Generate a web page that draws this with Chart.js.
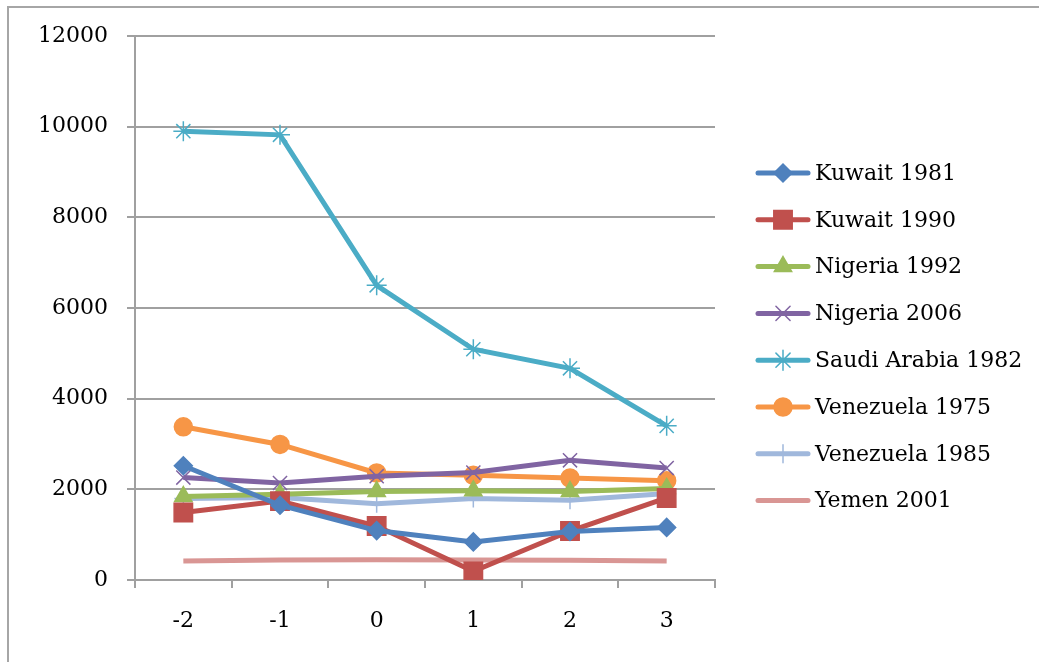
<!DOCTYPE html>
<html>
<head>
<meta charset="utf-8">
<script src="https://cdn.jsdelivr.net/npm/chart.js@4/dist/chart.umd.min.js"></script>
<style>
  html, body { margin: 0; padding: 0; background: #fff; }
  #frame { position: absolute; left: 0; top: 0; width: 1039px; height: 662px; }
  #border { position: absolute; left: 7px; top: 6px; right: 0; bottom: 0; border-left: 2px solid #a6a6a6; border-top: 2px solid #a6a6a6; }
  canvas { position: absolute; left: 0; top: 0; }
</style>
</head>
<body>
<div id="frame">
  <div id="border"></div>
  <canvas id="chart" width="1039" height="662"></canvas>
</div>
<script>
// Datos
const years = ['-2', '-1', '0', '1', '2', '3'];
const kuwait1981 = [2520, 1650, 1090, 840, 1070, 1160];
const kuwait1990 = [1490, 1740, 1190, 190, 1080, 1810];
const nigeria1992 = [1840, 1890, 1950, 1970, 1950, 2020];
const nigeria2006 = [2260, 2140, 2290, 2370, 2640, 2470];
const saudiArabia1982 = [9900, 9820, 6500, 5090, 4670, 3400];
const venezuela1975 = [3380, 2990, 2360, 2310, 2250, 2190];
const venezuela1985 = [1800, 1820, 1680, 1800, 1760, 1910];
const yemen2001 = [420, 440, 445, 440, 435, 420];
const yTicks = [0, 2000, 4000, 6000, 8000, 10000, 12000];

const FONT = '"DejaVu Serif", "Liberation Serif", serif';

const series = [
  { label: 'Kuwait 1981', data: kuwait1981, color: '#4f81bd', style: 'rectRot', radius: 9 },
  { label: 'Kuwait 1990', data: kuwait1990, color: '#c0504d', style: 'rect', radius: 13 },
  { label: 'Nigeria 1992', data: nigeria1992, color: '#9bbb59', style: 'triangle', radius: 10 },
  { label: 'Nigeria 2006', data: nigeria2006, color: '#8064a2', style: 'crossRot', radius: 10 },
  { label: 'Saudi Arabia 1982', data: saudiArabia1982, color: '#4bacc6', style: 'star', radius: 10 },
  { label: 'Venezuela 1975', data: venezuela1975, color: '#f79646', style: 'circle', radius: 9 },
  { label: 'Venezuela 1985', data: venezuela1985, color: '#a0b8dc', style: 'cross', radius: 9 },
  { label: 'Yemen 2001', data: yemen2001, color: '#d99694', style: false, radius: 0 }
];

// Leyenda estilo Excel: linea con marcador al centro
const excelLegend = {
  id: 'excelLegend',
  afterDraw(chart) {
    const ctx = chart.ctx;
    ctx.save();
    series.forEach((s, i) => {
      const y = 173 + i * 46.8;
      ctx.strokeStyle = s.color;
      ctx.lineWidth = 5;
      ctx.lineCap = 'round';
      ctx.beginPath();
      ctx.moveTo(758, y);
      ctx.lineTo(808, y);
      ctx.stroke();
      if (s.style) {
        ctx.fillStyle = s.color;
        ctx.strokeStyle = s.color;
        ctx.lineWidth = 1.5;
        Chart.helpers.drawPoint(ctx, { pointStyle: s.style, radius: s.radius, borderWidth: 1.5 }, 783, y);
      }
      ctx.fillStyle = '#000';
      ctx.font = '22px ' + FONT;
      ctx.textBaseline = 'middle';
      ctx.textAlign = 'left';
      ctx.fillText(s.label, 815, y + 1);
    });
    ctx.restore();
  }
};

function createChart() {
  const ctx = document.getElementById('chart').getContext('2d');
  new Chart(ctx, {
    type: 'line',
    data: {
      labels: years,
      datasets: series.map(s => ({
        label: s.label,
        data: s.data,
        borderColor: s.color,
        backgroundColor: s.color,
        borderWidth: 5,
        pointStyle: s.style,
        pointRadius: s.radius,
        pointBorderWidth: 1.5,
        pointHoverRadius: s.radius,
        tension: 0
      }))
    },
    options: {
      responsive: false,
      animation: false,
      layout: { padding: { left: 0, right: 324, top: 36, bottom: 0 } },
      plugins: { legend: { display: false }, tooltip: { enabled: false } },
      scales: {
        x: {
          offset: true,
          grid: { offset: true, drawOnChartArea: false, drawTicks: true, tickLength: 8, color: '#a0a0a0', lineWidth: 2 },
          border: { color: '#a0a0a0', width: 2 },
          ticks: { color: '#000', font: { family: FONT, size: 22 }, padding: 20 },
          afterFit(scale) { scale.height = 82; }
        },
        y: {
          min: 0,
          max: 12000,
          afterBuildTicks(scale) { scale.ticks = yTicks.map(v => ({ value: v })); },
          grid: { color: '#a0a0a0', lineWidth: 2, tickLength: 8 },
          border: { color: '#a0a0a0', width: 2 },
          ticks: { color: '#000', font: { family: FONT, size: 22 }, padding: 19, callback: v => String(v) },
          afterFit(scale) { scale.width = 135; }
        }
      }
    },
    plugins: [excelLegend]
  });
}

document.addEventListener('DOMContentLoaded', createChart);
</script>
</body>
</html>
